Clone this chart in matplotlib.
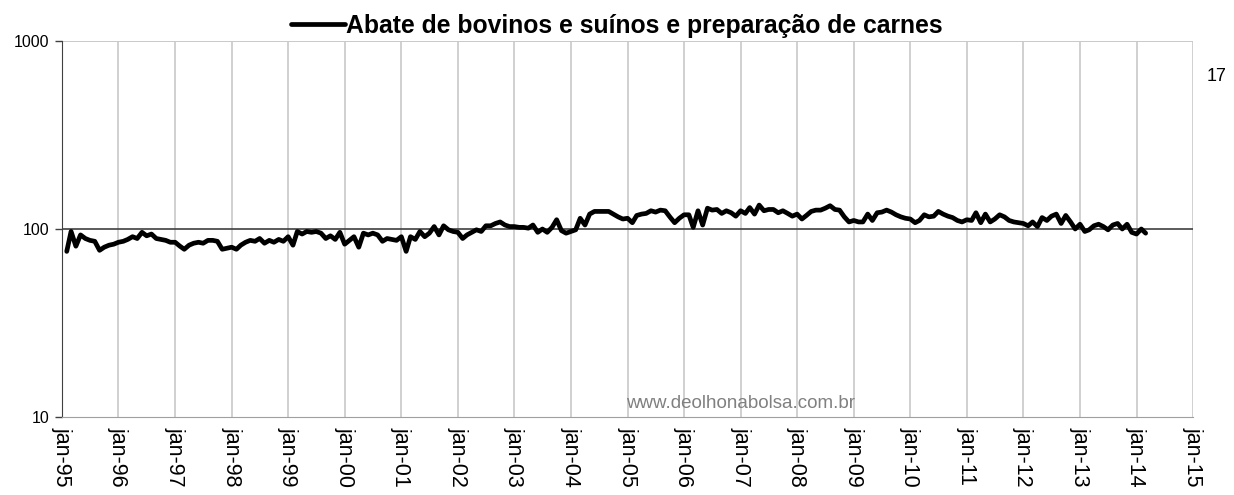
import numpy as np
import pandas as pd
import matplotlib
matplotlib.use("Agg")
import matplotlib.pyplot as plt
import matplotlib.dates as mdates

plt.rcParams['font.family'] = ['Liberation Sans', 'DejaVu Sans']

# monthly index values, series starts feb-95
v1995 = [76, 97, 81, 93, 89, 87, 86, 77, 80, 82, 83]
v1996 = [85, 86, 88, 91, 89, 96, 92, 94, 89, 88, 87, 85]
v1997 = [85, 81, 78, 82, 84, 85, 84, 87, 87, 86, 78, 79]
v1998 = [80, 78, 82, 85, 87, 86, 89, 84, 87, 85, 88, 86]
v1999 = [91, 82, 97, 94, 97, 96, 97, 95, 89, 92, 88, 96]
v2000 = [83, 87, 91, 80, 95, 93, 95, 93, 86, 89, 88, 87]
v2001 = [91, 76, 91, 88, 97, 91, 95, 103, 93, 104, 99, 97]
v2002 = [96, 89, 93, 96, 99, 97, 104, 104, 107, 109, 105, 103]
v2003 = [103, 102, 102, 101, 105, 96, 100, 96, 102, 112, 98, 95]
v2004 = [97, 99, 114, 105, 120, 124, 124, 124, 124, 120, 116, 113]
v2005 = [114, 108, 118, 120, 121, 125, 123, 126, 125, 116, 108, 114]
v2006 = [119, 119, 102, 125, 105, 129, 126, 127, 121, 125, 122, 117]
v2007 = [125, 121, 130, 120, 134, 125, 127, 127, 122, 125, 121, 117]
v2008 = [120, 113, 118, 124, 126, 126, 129, 133, 127, 126, 116, 109]
v2009 = [111, 109, 109, 120, 111, 122, 123, 126, 123, 119, 116, 114]
v2010 = [113, 108, 111, 119, 116, 117, 124, 120, 117, 115, 111, 109]
v2011 = [112, 111, 122, 108, 120, 109, 113, 119, 116, 111, 109, 108]
v2012 = [107, 104, 109, 103, 115, 111, 117, 120, 107, 118, 109, 100]
v2013 = [106, 97, 99, 104, 106, 103, 99, 105, 107, 100, 106, 96]
v2014 = [94, 100, 95]

series_name = "Abate de bovinos e suínos e preparação de carnes"
start_month = "1995-02-01"
year_ticks = list(range(1995, 2016))

values = (v1995 + v1996 + v1997 + v1998 + v1999 + v2000 + v2001 + v2002 +
          v2003 + v2004 + v2005 + v2006 + v2007 + v2008 + v2009 + v2010 +
          v2011 + v2012 + v2013 + v2014)
dates = pd.date_range(start_month, periods=len(values), freq="MS")

fig = plt.figure(figsize=(12.34, 4.95), dpi=100)
ax = fig.add_axes([0.0502, 0.1576, 0.9166, 0.7596])

line, = ax.plot(dates, values, color='black', lw=3.4, solid_joinstyle='round',
                solid_capstyle='round', label=series_name, zorder=3)

ax.set_yscale('log')
ax.set_ylim(10, 1000)
ax.set_yticks([10, 100, 1000])
ax.set_yticklabels(['10', '100', '1000'])
ax.yaxis.set_minor_locator(matplotlib.ticker.NullLocator())
ax.axhline(100, color='#404040', lw=1.2, zorder=2)
ax.axhline(1000, color='#c0c0c0', lw=1.2, zorder=1)

ticks = [pd.Timestamp(f"{y}-01-01") for y in year_ticks]
ax.set_xlim(ticks[0], ticks[-1])
ax.set_xticks(ticks)
ax.set_xticklabels([t.strftime("jan-%y") for t in ticks], rotation=-90, fontsize=15.5)
ax.grid(axis='x', color='#c8c8c8', lw=1.2, zorder=0)
ax.tick_params(axis='x', length=0, pad=7)
ax.tick_params(axis='y', labelsize=11.5, length=5, width=1, color='#404040', pad=4)

for side in ['top', 'right']:
    ax.spines[side].set_visible(False)
ax.spines['left'].set_color('#404040')
ax.spines['bottom'].set_color('#a0a0a0')

fig.legend(handles=[line], loc='upper center', bbox_to_anchor=(0.5, 1.017),
           frameon=False, handlelength=2.2, handletextpad=0.05,
           prop={'weight': 'bold', 'size': 17.8})

fig.text(0.9855, 0.845, "17", fontsize=13, ha='center', va='center')
ax.text(pd.Timestamp("2007-01-01"), 11.8, "www.deolhonabolsa.com.br", color='#808080',
        fontsize=13.5, ha='center', va='center')

fig.savefig("out.png", dpi=100)
